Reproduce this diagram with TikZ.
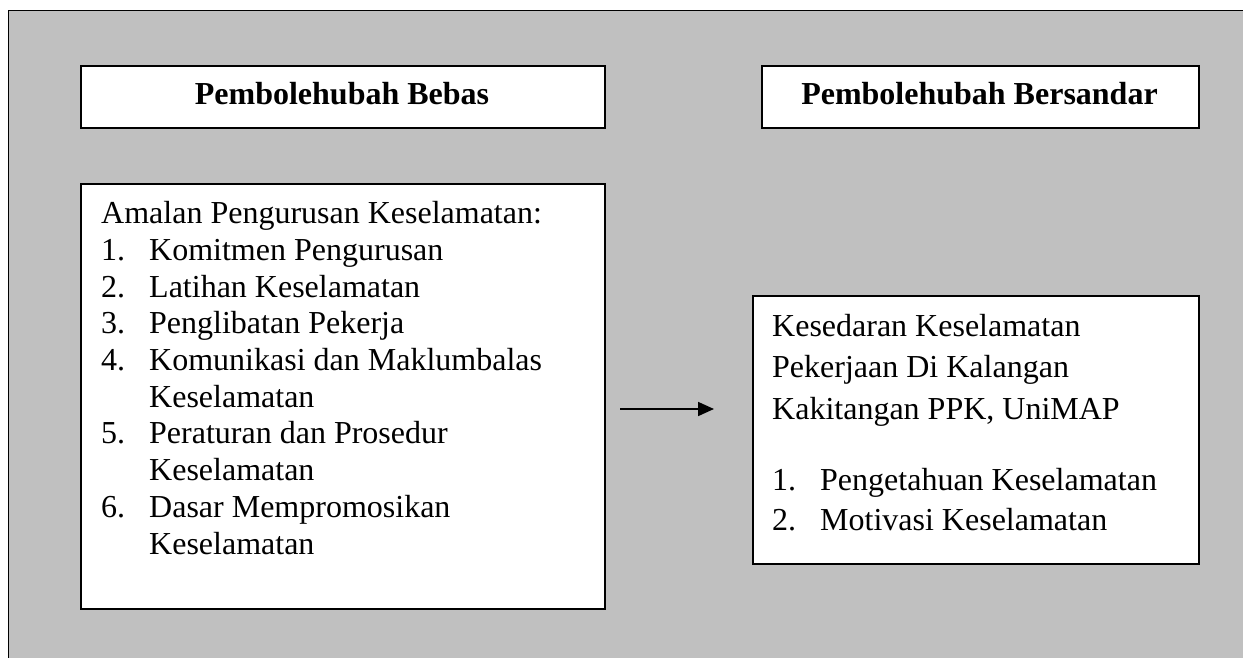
\documentclass[tikz,border=0pt]{standalone}
\usepackage{fontspec}
\setmainfont{Liberation Serif}
\usetikzlibrary{arrows.meta}
\definecolor{bggray}{HTML}{C0C0C0}
\begin{document}
\begin{tikzpicture}[x=1pt,y=-1pt,
  box/.style={draw=black, line width=1.8pt, fill=white, rectangle, inner sep=0pt, anchor=north west},
  txt/.style={anchor=base west, inner sep=0pt, font=\fontsize{32}{36}\selectfont},
  ttl/.style={anchor=base, inner sep=0pt, font=\fontsize{32}{36}\selectfont\bfseries},
  conn/.style={line width=1.8pt, -{Triangle[length=16pt,width=14pt]}}]
\useasboundingbox (0,0) rectangle (1243,658);
\fill[bggray] (8,10) rectangle (1250,665);
\draw[line width=1.8pt] (8.5,665) -- (8.5,10.5) -- (1250,10.5);

% boxes
\node[box, minimum width=524pt, minimum height=62pt] (b1) at (80,65) {};
\node[box, minimum width=437pt, minimum height=62pt] (b2) at (761,65) {};
\node[box, minimum width=524pt, minimum height=425pt] (b3) at (80,183) {};
\node[box, minimum width=446pt, minimum height=268pt] (b4) at (752,295) {};

% titles
\node[ttl] (t1) at (342,105) {Pembolehubah Bebas};
\node[ttl] (t2) at (979.5,105) {Pembolehubah Bersandar};

% left box text
\node[txt] (l0) at (101,223) {Amalan Pengurusan Keselamatan:};
\node[txt] (n1) at (101,260) {1.};
\node[txt] (i1) at (149,260) {Komitmen Pengurusan};
\node[txt] (n2) at (101,297) {2.};
\node[txt] (i2) at (149,297) {Latihan Keselamatan};
\node[txt] (n3) at (101,333) {3.};
\node[txt] (i3) at (149,333) {Penglibatan Pekerja};
\node[txt] (n4) at (101,370) {4.};
\node[txt] (i4) at (149,370) {Komunikasi dan Maklumbalas};
\node[txt] (i4b) at (149,407) {Keselamatan};
\node[txt] (n5) at (101,443) {5.};
\node[txt] (i5) at (149,443) {Peraturan dan Prosedur};
\node[txt] (i5b) at (149,480) {Keselamatan};
\node[txt] (n6) at (101,517) {6.};
\node[txt] (i6) at (149,517) {Dasar Mempromosikan};
\node[txt] (i6b) at (149,554) {Keselamatan};

% right box text
\node[txt] (r1) at (772,336) {Kesedaran Keselamatan};
\node[txt] (r2) at (772,377) {Pekerjaan Di Kalangan};
\node[txt] (r3) at (772,419) {Kakitangan PPK, UniMAP};
\node[txt] (m1) at (772,490) {1.};
\node[txt] (j1) at (820,490) {Pengetahuan Keselamatan};
\node[txt] (m2) at (772,530) {2.};
\node[txt] (j2) at (820,530) {Motivasi Keselamatan};

% arrow
\coordinate (a0) at (620,409);
\coordinate (a1) at (714,409);
\draw[conn] (a0) -- (a1);
\end{tikzpicture}
\end{document}
